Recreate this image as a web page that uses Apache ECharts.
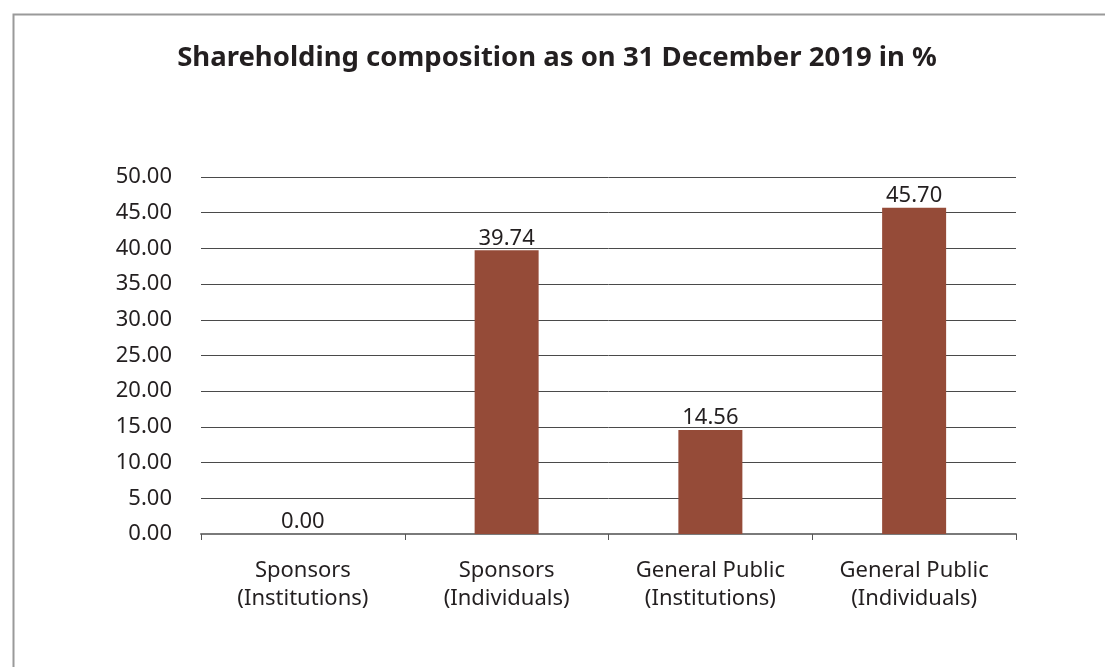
<!DOCTYPE html>
<html>
<head>
<meta charset="utf-8">
<script src="https://cdn.jsdelivr.net/npm/echarts@6/dist/echarts.min.js"></script>
<style>
  html, body { margin: 0; padding: 0; background: #fff; }
  #chart { width: 1105px; height: 667px; }
</style>
</head>
<body>
<div id="chart"></div>
<script>
// Shareholding composition, % of total shares
const categories = [
  'Sponsors\n(Institutions)',
  'Sponsors\n(Individuals)',
  'General Public\n(Institutions)',
  'General Public\n(Individuals)'
];
const shareValues = [0.00, 39.74, 14.56, 45.70];
const yTicks = { min: 0, max: 50, interval: 5 };

const FONT = 'Noto Sans';
const chart = echarts.init(document.getElementById('chart'));

chart.setOption({
  backgroundColor: '#fff',
  animation: false,
  graphic: [{
    type: 'rect',
    left: 11, top: 12,
    shape: { width: 1200, height: 800 },
    style: { fill: 'none', stroke: '#9a9a9a', lineWidth: 2 },
    silent: true
  }],
  title: {
    text: 'Shareholding composition as on 31 December 2019 in %',
    left: 552, top: 39, textAlign: 'center',
    textStyle: { fontFamily: FONT, fontWeight: 'bold', fontSize: 27.5, color: '#231f20' }
  },
  grid: { left: 201, right: 89, top: 177, bottom: 133, containLabel: false },
  xAxis: {
    type: 'category',
    data: categories,
    axisLine: { lineStyle: { color: '#7a7a7a', width: 2 } },
    axisTick: { show: true, alignWithLabel: false, length: 6, lineStyle: { color: '#555' } },
    axisLabel: {
      fontFamily: FONT, fontSize: 22, color: '#231f20',
      lineHeight: 28, margin: 23, interval: 0
    }
  },
  yAxis: {
    type: 'value',
    min: yTicks.min, max: yTicks.max, interval: yTicks.interval,
    axisLine: { show: false },
    axisTick: { show: false },
    axisLabel: {
      fontFamily: FONT, fontSize: 22, color: '#231f20', margin: 29,
      formatter: v => v.toFixed(2)
    },
    splitLine: { lineStyle: { color: '#4a4a4a', width: 1 } }
  },
  series: [{
    type: 'bar',
    data: shareValues,
    barWidth: 64,
    itemStyle: { color: '#954b38' },
    label: {
      show: true, position: 'top', distance: 1,
      fontFamily: FONT, fontSize: 22, color: '#231f20',
      formatter: p => p.value.toFixed(2)
    }
  }]
});
</script>
</body>
</html>
